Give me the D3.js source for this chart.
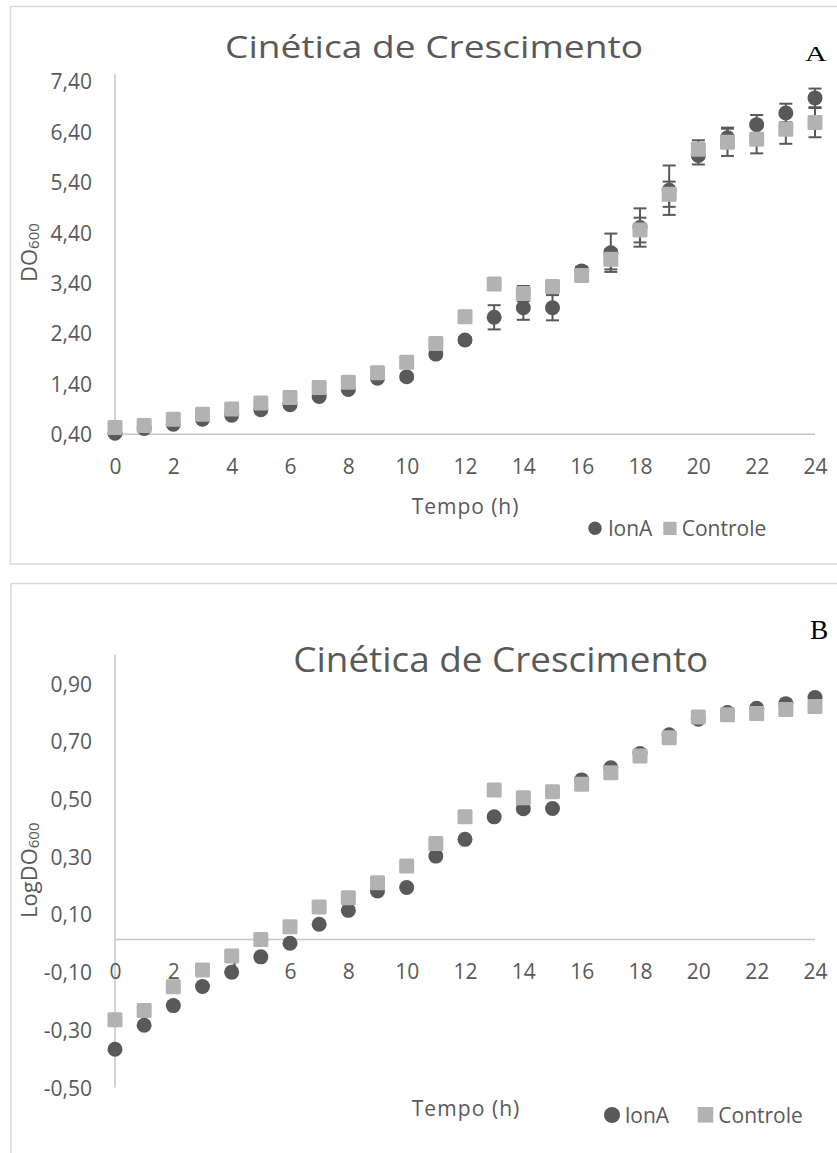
<!DOCTYPE html>
<html><head><meta charset="utf-8">
<script src="https://cdn.jsdelivr.net/npm/d3@7"></script>
<style>
body{margin:0;background:#fff}
svg{display:block}
text{font-family:"Open Sans",sans-serif;fill:#595959}
</style>
</head><body>
<svg id="c" width="837" height="1153"></svg>
<script>
// ---------- data ----------
const hours = [0,1,2,3,4,5,6,7,8,9,10,11,12,13,14,15,16,17,18,19,20,21,22,23,24];
const seriesNames = ["lonA", "Controle"];
const chartTitle = "Cinética de Crescimento";
const xTitle = "Tempo (h)";

// Panel A: DO600
const lonA     = [0.42,0.515,0.60,0.70,0.78,0.886,0.985,1.15,1.29,1.51,1.54,1.99,2.27,2.72,2.91,2.91,3.64,4.00,4.50,5.24,5.93,6.28,6.54,6.77,7.07];
const controle = [0.535,0.574,0.70,0.80,0.90,1.02,1.13,1.33,1.43,1.62,1.83,2.20,2.73,3.38,3.19,3.33,3.55,3.87,4.45,5.16,6.05,6.19,6.25,6.45,6.58];
const lonAErr     = [0.02,0.02,0.03,0.03,0.03,0.04,0.04,0.05,0.05,0.05,0.06,0.06,0.06,0.24,0.24,0.25,0.08,0.38,0.38,0.49,0.18,0.20,0.19,0.185,0.185];
const controleErr = [0.02,0.02,0.03,0.03,0.03,0.04,0.04,0.05,0.05,0.05,0.06,0.06,0.06,0.05,0.15,0.05,0.05,0.20,0.245,0.25,0.18,0.27,0.28,0.29,0.29];

// Panel B: LogDO600
const logLonA     = [-0.367,-0.284,-0.216,-0.150,-0.100,-0.047,0.000,0.066,0.114,0.181,0.193,0.302,0.360,0.438,0.466,0.467,0.566,0.608,0.657,0.722,0.776,0.799,0.814,0.830,0.851];
const logControle = [-0.265,-0.233,-0.151,-0.093,-0.044,0.013,0.057,0.126,0.158,0.210,0.268,0.346,0.438,0.531,0.504,0.525,0.551,0.591,0.649,0.712,0.784,0.792,0.796,0.810,0.820];

const xTicks  = [0,2,4,6,8,10,12,14,16,18,20,22,24];
const yTicksA = [0.4,1.4,2.4,3.4,4.4,5.4,6.4,7.4];
const yTicksB = [-0.5,-0.3,-0.1,0.1,0.3,0.5,0.7,0.9];

// ---------- style ----------
const DARK = "#595959", LIGHT = "#b2b2b2", AXIS = "#c6c6c6", BORDER = "#d9d9d9";
const fmt = v => (v < 0 ? "-" : "") + Math.abs(v).toFixed(2).replace(".", ",");

const svg = d3.select("#c");

function drawPanel(o) {
  const g = svg.append("g");
  const x = o.x, y = o.y;
  const [y0, y1] = y.domain();
  // border
  g.append("rect").attr("x", o.box[0]).attr("y", o.box[1]).attr("width", o.box[2]).attr("height", o.box[3])
    .attr("fill", "none").attr("stroke", BORDER).attr("stroke-width", 1.5);
  // axis lines
  g.append("line").attr("x1", x(0)).attr("x2", x(0)).attr("y1", y(y1)).attr("y2", y(y0))
    .attr("stroke", AXIS).attr("stroke-width", 1.5);
  // y tick labels
  const ya = g.append("g").attr("transform", `translate(${x(0)},0)`)
    .call(d3.axisLeft(y).tickValues(o.yTicks).tickFormat(fmt).tickSize(0).tickPadding(23));
  ya.select(".domain").remove();
  ya.attr("font-family", null).attr("font-size", null);
  ya.selectAll("text").style("font-size", "21px").attr("dy", "0.36em");
  // x tick labels
  const xa = g.append("g").attr("transform", `translate(0,${y(o.cross)})`)
    .call(d3.axisBottom(x).tickValues(xTicks).tickFormat(d3.format("d")).tickSize(0));
  xa.select(".domain").remove();
  xa.attr("font-family", null).attr("font-size", null);
  xa.selectAll("text").style("font-size", "21px").attr("y", 32).attr("dy", "0.36em");
  g.append("line").attr("x1", x(0)).attr("x2", x(24)).attr("y1", y(o.cross)).attr("y2", y(o.cross))
    .attr("stroke", AXIS).attr("stroke-width", 1.5);

  const errBars = (vals, errs) => {
    if (!errs) return;
    const eg = g.append("g").attr("stroke", DARK).attr("stroke-width", 2);
    hours.forEach((h, i) => {
      const cx = x(h), top = y(vals[i] + errs[i]), bot = y(vals[i] - errs[i]);
      eg.append("line").attr("x1", cx).attr("x2", cx).attr("y1", top).attr("y2", bot);
      eg.append("line").attr("x1", cx - 6.5).attr("x2", cx + 6.5).attr("y1", top).attr("y2", top);
      eg.append("line").attr("x1", cx - 6.5).attr("x2", cx + 6.5).attr("y1", bot).attr("y2", bot);
    });
  };
  errBars(o.s1, o.e1);
  g.append("g").selectAll("circle").data(hours).join("circle")
    .attr("cx", d => x(d)).attr("cy", (d, i) => y(o.s1[i])).attr("r", 7.5).attr("fill", DARK);
  errBars(o.s2, o.e2);
  g.append("g").selectAll("rect").data(hours).join("rect")
    .attr("x", d => x(d) - 7.5).attr("y", (d, i) => y(o.s2[i]) - 7.5)
    .attr("width", 15).attr("height", 15).attr("rx", 1.5).attr("fill", LIGHT);

  // title
  g.append("text").attr("x", o.title[0]).attr("y", o.title[1]).attr("text-anchor", "middle")
    .style("font-size", o.title[2] + "px").attr("textLength", o.title[3]).attr("lengthAdjust", "spacingAndGlyphs")
    .text(chartTitle);
  // panel letter
  g.append("text").attr("x", o.letter[0]).attr("y", o.letter[1])
    .style("font-family", "'Liberation Serif','Times New Roman',serif").style("font-size", o.letter[2] + "px")
    .style("fill", "#000").attr("textLength", o.letter[3]).attr("lengthAdjust", "spacingAndGlyphs")
    .text(o.letter[4]);
  // x title
  g.append("text").attr("x", o.xt[0]).attr("y", o.xt[1]).style("font-size", o.xt[2] + "px")
    .attr("textLength", o.xt[3]).attr("lengthAdjust", "spacing").text(xTitle);
  // y title
  const yt = g.append("text").attr("transform", `translate(${o.yt[0]},${o.yt[1]}) rotate(-90)`)
    .style("font-size", "22px");
  yt.append("tspan").text(o.yt[2]);
  yt.append("tspan").style("font-size", "15px").attr("dy", 2).text("600");
  // legend
  const L = o.leg;
  g.append("circle").attr("cx", L.c[0]).attr("cy", L.c[1]).attr("r", L.c[2]).attr("fill", DARK);
  g.append("text").attr("x", L.t1[0]).attr("y", L.t1[1]).style("font-size", "21px").text(seriesNames[0]);
  g.append("rect").attr("x", L.s[0]).attr("y", L.s[1]).attr("width", L.s[2]).attr("height", L.s[2]).attr("fill", LIGHT);
  g.append("text").attr("x", L.t2[0]).attr("y", L.t2[1]).style("font-size", "21px").text(seriesNames[1]);
}

const x = d3.scaleLinear().domain([0, 24]).range([115, 815]);

drawPanel({
  x, y: d3.scaleLinear().domain([0.4, 7.54]).range([434.3, 74.2]),
  cross: 0.4, yTicks: yTicksA,
  s1: lonA, s2: controle, e1: lonAErr, e2: controleErr,
  box: [10.5, 6.5, 840, 557.5],
  title: [434, 58.3, 31, 418],
  letter: [805, 61, 21.6, 21.7, "A"],
  xt: [411.7, 513.5, 21, 106.7],
  yt: [37.3, 282, "DO"],
  leg: {c: [595, 528.3, 6.7], t1: [608.3, 535.7], s: [663.3, 521.8, 13.3], t2: [681.7, 535.7]}
});

drawPanel({
  x, y: d3.scaleLinear().domain([-0.5, 1.0]).range([1087.6, 654.6]),
  cross: 0.013, yTicks: yTicksB,
  s1: logLonA, s2: logControle, e1: null, e2: null,
  box: [11, 583.5, 840, 600],
  title: [500.8, 671.7, 34, 415],
  letter: [810, 639.3, 26.6, 18.3, "B"],
  xt: [411.7, 1116, 21, 107.6],
  yt: [37, 918, "LogDO"],
  leg: {c: [612, 1115, 8], t1: [625, 1123], s: [697.7, 1107, 15.6], t2: [718.3, 1123]}
});
</script>
</body></html>
